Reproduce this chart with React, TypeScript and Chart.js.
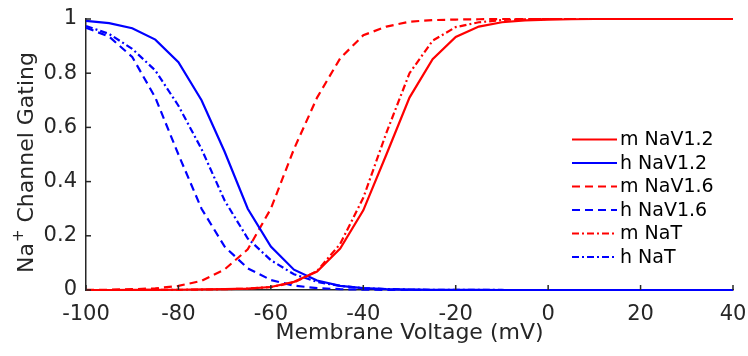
import React, { useEffect, useRef } from "react";
import { Chart, registerables } from "chart.js";

Chart.register(...registerables);

const voltage = [-100, -95, -90, -85, -80, -75, -70, -65, -60, -55, -50, -45, -40, -35, -30, -25, -20, -15, -10, -5, 0, 5, 10, 15, 20, 25, 30, 35, 40];

const mNaV12 = [0, 0, 0.0003, 0.0005, 0.001, 0.002, 0.003, 0.005, 0.011, 0.03, 0.068, 0.153, 0.294, 0.5, 0.71, 0.852, 0.934, 0.972, 0.988, 0.995, 0.998, 0.999, 1, 1, 1, 1, 1, 1, 1];
const hNaV12 = [0.993, 0.985, 0.966, 0.924, 0.841, 0.7, 0.51, 0.3, 0.16, 0.075, 0.035, 0.015, 0.007, 0.003, 0.0015, 0.0007, 0.0003, 0.0001, 0, 0, 0, 0, 0, 0, 0, 0, 0, 0, 0];
const mNaV16 = [0.0005, 0.001, 0.003, 0.006, 0.015, 0.034, 0.076, 0.15, 0.3, 0.52, 0.71, 0.855, 0.94, 0.972, 0.99, 0.996, 0.998, 0.999, 1, 1, 1, 1, 1, 1, 1, 1, 1, 1, 1];
const hNaV16 = [0.968, 0.935, 0.86, 0.71, 0.5, 0.3, 0.16, 0.08, 0.037, 0.016, 0.007, 0.003, 0.0013, 0.0005, 0.0002, 0, 0, 0, 0, 0, 0, 0, 0, 0, 0, 0, 0, 0, 0];
const mNaT = [0, 0, 0, 0.0003, 0.0007, 0.0015, 0.003, 0.005, 0.011, 0.028, 0.07, 0.17, 0.34, 0.58, 0.8, 0.92, 0.97, 0.988, 0.996, 0.999, 1, 1, 1, 1, 1, 1, 1, 1, 1];
const hNaT = [0.974, 0.945, 0.89, 0.81, 0.68, 0.52, 0.33, 0.19, 0.11, 0.058, 0.03, 0.015, 0.007, 0.0035, 0.0017, 0.0008, 0.0004, 0.0002, 0.0001, 0, 0, 0, 0, 0, 0, 0, 0, 0, 0];

const seriesLabels = ["m NaV1.2", "h NaV1.2", "m NaV1.6", "h NaV1.6", "m NaT", "h NaT"];
const xTitle = "Membrane Voltage (mV)";
const yTitleBase = "Na";
const yTitleSup = "+";
const yTitleRest = " Channel Gating";

const RED = "#FF0000";
const BLUE = "#0000FF";
const AXIS = "#262626";
const FONT = "'DejaVu Sans', 'Liberation Sans', Arial, sans-serif";

const SOLID: number[] = [];
const DASH = [8, 5];
const DASHDOT = [7, 3, 2, 3];

const toPts = (ys: number[]) => voltage.map((x, i) => ({ x, y: ys[i] }));

const inwardTicks = {
  id: "inwardTicks",
  afterDraw(chart: any) {
    const { ctx, chartArea, scales } = chart;
    ctx.save();
    ctx.strokeStyle = AXIS;
    ctx.lineWidth = 1.5;
    ctx.setLineDash([]);
    scales.x.ticks.forEach((t: any) => {
      const px = scales.x.getPixelForValue(t.value);
      ctx.beginPath();
      ctx.moveTo(px, chartArea.bottom);
      ctx.lineTo(px, chartArea.bottom - 5);
      ctx.stroke();
    });
    scales.y.ticks.forEach((t: any) => {
      const py = scales.y.getPixelForValue(t.value);
      ctx.beginPath();
      ctx.moveTo(chartArea.left, py);
      ctx.lineTo(chartArea.left + 5, py);
      ctx.stroke();
    });
    ctx.restore();
  },
};

const yTitlePlugin = {
  id: "yTitlePlugin",
  afterDraw(chart: any) {
    const { ctx } = chart;
    ctx.save();
    ctx.translate(33, 273);
    ctx.rotate(-Math.PI / 2);
    ctx.fillStyle = AXIS;
    ctx.textAlign = "left";
    ctx.textBaseline = "alphabetic";
    ctx.font = `22px ${FONT}`;
    ctx.fillText(yTitleBase, 0, 0);
    let x = ctx.measureText(yTitleBase).width + 1;
    ctx.font = `15px ${FONT}`;
    ctx.fillText(yTitleSup, x, -10);
    x += ctx.measureText(yTitleSup).width;
    ctx.font = `22px ${FONT}`;
    ctx.fillText(yTitleRest, x, 0);
    ctx.restore();
  },
};

const insideLegend = {
  id: "insideLegend",
  afterDraw(chart: any) {
    const { ctx } = chart;
    ctx.save();
    ctx.font = `19px ${FONT}`;
    ctx.textBaseline = "middle";
    ctx.textAlign = "left";
    chart.data.datasets.forEach((ds: any, i: number) => {
      const y = 139.5 + i * 23.5;
      ctx.strokeStyle = ds.borderColor;
      ctx.lineWidth = 2;
      ctx.setLineDash(ds.borderDash || []);
      ctx.beginPath();
      ctx.moveTo(572, y);
      ctx.lineTo(617, y);
      ctx.stroke();
      ctx.setLineDash([]);
      ctx.fillStyle = "#000";
      ctx.fillText(ds.label, 620, y + 1);
    });
    ctx.restore();
  },
};

export default function App() {
  const ref = useRef<HTMLCanvasElement | null>(null);
  useEffect(() => {
    if (!ref.current) return;
    const colors = [RED, BLUE, RED, BLUE, RED, BLUE];
    const dashes = [SOLID, SOLID, DASH, DASH, DASHDOT, DASHDOT];
    const values = [mNaV12, hNaV12, mNaV16, hNaV16, mNaT, hNaT];
    const chart = new Chart(ref.current, {
      type: "line",
      data: {
        datasets: values.map((v, i) => ({
          label: seriesLabels[i],
          data: toPts(v),
          borderColor: colors[i],
          backgroundColor: colors[i],
          borderDash: dashes[i],
          borderWidth: 2.2,
          pointRadius: 0,
          tension: 0,
          fill: false,
          clip: false as any,
        })),
      },
      options: {
        animation: false,
        responsive: false,
        maintainAspectRatio: false,
        layout: { padding: { top: 19, right: 15, left: 0, bottom: 0 } },
        plugins: { legend: { display: false }, tooltip: { enabled: false } },
        scales: {
          x: {
            type: "linear",
            min: -100,
            max: 40,
            afterFit: (s: any) => { s.height = 66; s.paddingLeft = 0; s.paddingRight = 0; },
            ticks: { stepSize: 20, color: AXIS, font: { family: FONT, size: 21 }, padding: 12, maxRotation: 0 },
            grid: { display: false, drawTicks: false },
            border: { display: true, color: AXIS, width: 1.5 },
            title: { display: true, text: xTitle, color: AXIS, font: { family: FONT, size: 22 }, padding: { top: 0, bottom: 10 } },
          },
          y: {
            type: "linear",
            min: 0,
            max: 1,
            afterFit: (s: any) => { s.width = 86; s.paddingTop = 0; s.paddingBottom = 0; },
            ticks: {
              stepSize: 0.2,
              color: AXIS,
              font: { family: FONT, size: 21 },
              padding: 9,
              callback: (v: any) => String(Number(Number(v).toFixed(1))),
            },
            grid: { display: false, drawTicks: false },
            border: { display: true, color: AXIS, width: 1.5 },
            title: { display: false },
          },
        },
      },
      plugins: [inwardTicks, yTitlePlugin, insideLegend],
    });
    return () => chart.destroy();
  }, []);
  return (
    <div style={{ position: "fixed", left: 0, top: 0, width: 748, height: 356, background: "#fff" }}>
      <canvas ref={ref} width={748} height={356} style={{ width: 748, height: 356 }} />
    </div>
  );
}
